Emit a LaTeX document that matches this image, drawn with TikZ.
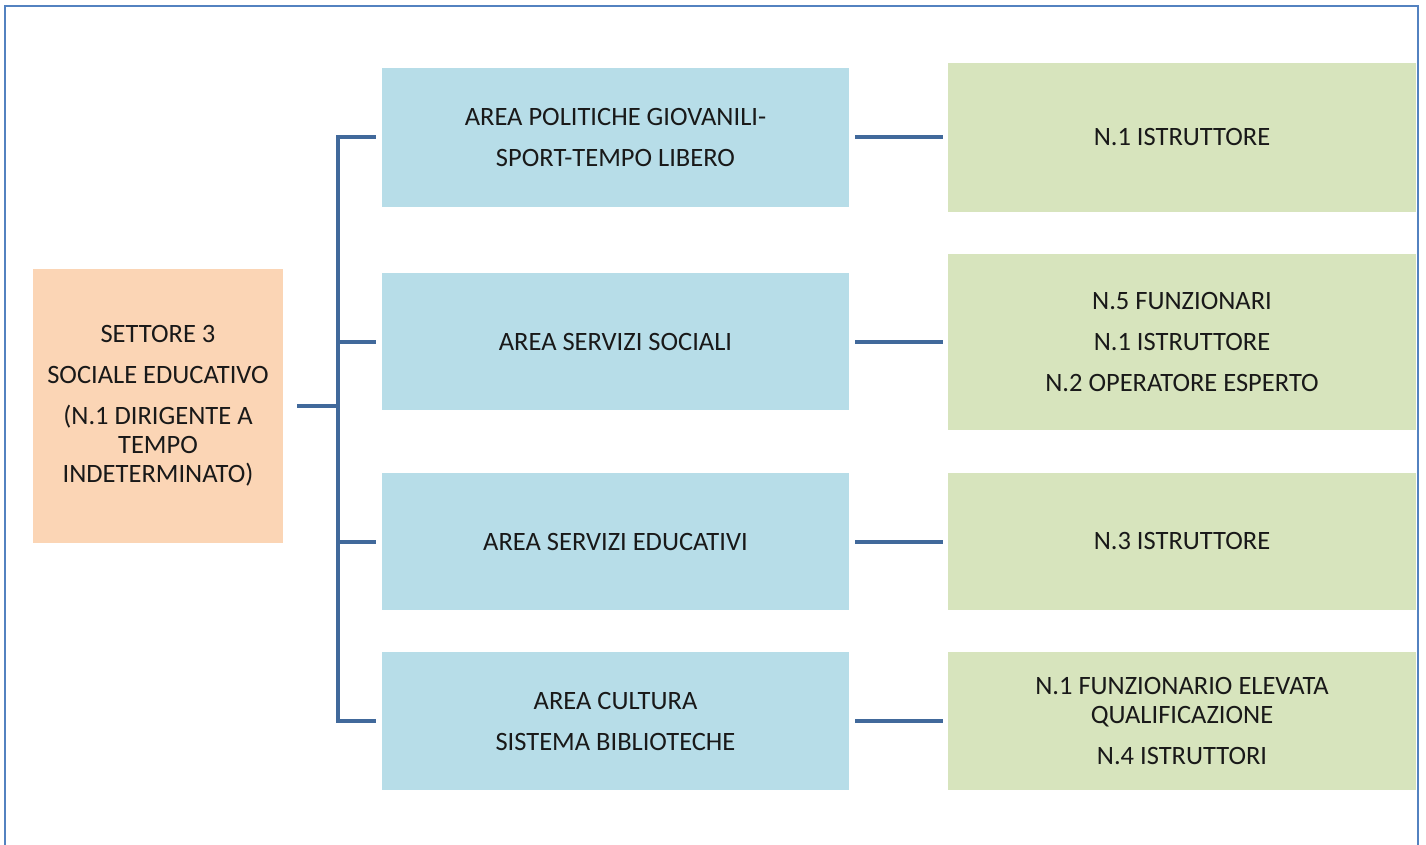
\documentclass[tikz,border=0pt]{standalone}
\usepackage{fontspec}
\setmainfont{Carlito}
\usepackage{tikz}

\definecolor{framec}{HTML}{5382C0}
\definecolor{linkc}{HTML}{41699B}
\definecolor{headc}{HTML}{FBD5B5}
\definecolor{areac}{HTML}{B7DDE8}
\definecolor{staffc}{HTML}{D7E4BD}

\tikzset{
  box/.style={rectangle, inner sep=0pt, align=center, text=black!90,
    font=\fontsize{26.5}{29}\selectfont},
  head/.style={box, fill=headc, minimum width=250pt, minimum height=274pt},
  area/.style={box, fill=areac, minimum width=467pt},
  staff/.style={box, fill=staffc, minimum width=468pt},
  link/.style={draw=linkc, line width=4pt},
}

\begin{document}
\begin{tikzpicture}[x=1pt, y=-1pt]
  \useasboundingbox (0,0) rectangle (1426,845);
  \draw[framec, line width=2.5pt] (5,860) -- (5,6) -- (1418,6) -- (1418,860);

  \node[head] (sett) at (158,406) {SETTORE 3\\[12pt] SOCIALE EDUCATIVO\\[12pt] (N.1 DIRIGENTE A\\ TEMPO\\ INDETERMINATO)};

  \node[area, minimum height=139pt] (giov) at (615.5,137.5) {AREA POLITICHE GIOVANILI-\\[12pt] SPORT-TEMPO LIBERO};
  \node[area, minimum height=137pt] (soc) at (615.5,341.5) {AREA SERVIZI SOCIALI};
  \node[area, minimum height=137pt] (edu) at (615.5,541.5) {AREA SERVIZI EDUCATIVI};
  \node[area, minimum height=138pt] (cult) at (615.5,721) {AREA CULTURA\\[12pt] SISTEMA BIBLIOTECHE};

  \node[staff, minimum height=149pt] (giovst) at (1182,137.5) {N.1 ISTRUTTORE};
  \node[staff, minimum height=176pt] (socst) at (1182,342) {N.5 FUNZIONARI\\[12pt] N.1 ISTRUTTORE\\[12pt] N.2 OPERATORE ESPERTO};
  \node[staff, minimum height=137pt] (edust) at (1182,541.5) {N.3 ISTRUTTORE};
  \node[staff, minimum height=138pt] (cultst) at (1182,721) {N.1 FUNZIONARIO ELEVATA\\ QUALIFICAZIONE\\[12pt] N.4 ISTRUTTORI};

  \coordinate (trunk) at (338,406);
  \draw[link, shorten <=14pt] (sett.east) -- (trunk);
  \draw[link, shorten >=6pt] (trunk) |- (giov.west);
  \draw[link, shorten >=6pt] (trunk) |- (soc.west);
  \draw[link, shorten >=6pt] (trunk) |- (edu.west);
  \draw[link, shorten >=6pt] (trunk) |- (cult.west);

  \draw[link, shorten <=6pt, shorten >=5pt] (giov.east) -- (giov.east -| giovst.west);
  \draw[link, shorten <=6pt, shorten >=5pt] (soc.east) -- (soc.east -| socst.west);
  \draw[link, shorten <=6pt, shorten >=5pt] (edu.east) -- (edust.west);
  \draw[link, shorten <=6pt, shorten >=5pt] (cult.east) -- (cultst.west);
\end{tikzpicture}
\end{document}
